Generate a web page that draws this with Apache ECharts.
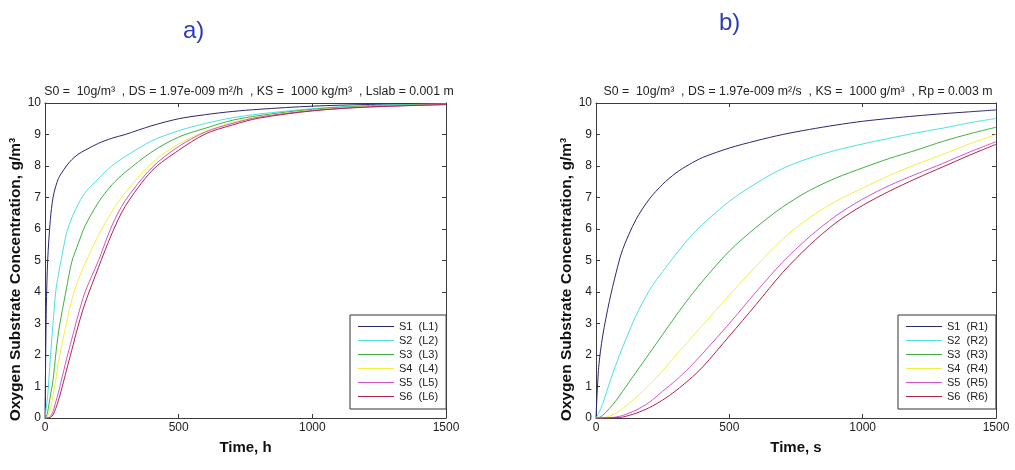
<!DOCTYPE html>
<html>
<head>
<meta charset="utf-8">
<script src="https://cdn.jsdelivr.net/npm/echarts@6/dist/echarts.min.js"></script>
<style>
  html, body { margin: 0; background: #fff; }
  #chart { width: 1015px; height: 470px; }
</style>
</head>
<body>
<div id="chart"></div>
<script>
// a) slab, time in h
const slabTime = [0, 5, 10, 20, 30, 40, 50, 60, 80, 100, 125, 150, 200, 250, 300, 400, 500, 600, 700, 800, 1000, 1200, 1500];
const slabS1 = [0, 3.5, 5.0, 6.3, 7.0, 7.35, 7.6, 7.75, 8.0, 8.2, 8.38, 8.5, 8.72, 8.88, 9.0, 9.28, 9.5, 9.63, 9.73, 9.8, 9.9, 9.95, 9.98];
const slabS2 = [0, 0.35, 0.7, 1.9, 3.0, 4.0, 4.55, 5.0, 5.85, 6.35, 6.8, 7.15, 7.6, 8.0, 8.3, 8.8, 9.12, 9.35, 9.53, 9.65, 9.82, 9.92, 9.97];
const slabS3 = [0, 0.05, 0.2, 0.7, 1.2, 2.0, 2.7, 3.2, 4.1, 4.95, 5.55, 6.1, 6.85, 7.4, 7.8, 8.45, 8.92, 9.2, 9.45, 9.6, 9.8, 9.9, 9.96];
const slabS4 = [0, 0, 0.05, 0.3, 0.7, 1.2, 1.75, 2.2, 3.0, 3.75, 4.4, 4.9, 5.8, 6.55, 7.15, 8.1, 8.7, 9.1, 9.38, 9.56, 9.77, 9.88, 9.95];
const slabS5 = [0, 0, 0, 0.05, 0.2, 0.5, 0.8, 1.15, 1.85, 2.5, 3.3, 4.0, 5.0, 6.1, 6.9, 7.95, 8.62, 9.08, 9.35, 9.55, 9.76, 9.87, 9.95];
const slabS6 = [0, 0, 0, 0.02, 0.1, 0.3, 0.55, 0.85, 1.5, 2.15, 2.95, 3.65, 4.78, 5.85, 6.72, 7.85, 8.5, 9.02, 9.3, 9.52, 9.75, 9.87, 9.95];

// b) sphere, time in s
const sphereTime = [0, 10, 25, 50, 75, 100, 150, 200, 250, 300, 350, 400, 500, 600, 700, 800, 900, 1000, 1100, 1200, 1300, 1400, 1500];
const sphereS1 = [0, 1.6, 2.6, 3.7, 4.6, 5.35, 6.3, 6.95, 7.42, 7.78, 8.05, 8.27, 8.57, 8.8, 9.0, 9.16, 9.3, 9.42, 9.51, 9.59, 9.66, 9.72, 9.78];
const sphereS2 = [0, 0.15, 0.45, 1.1, 1.7, 2.25, 3.25, 4.05, 4.65, 5.2, 5.72, 6.15, 6.88, 7.45, 7.92, 8.25, 8.5, 8.7, 8.88, 9.05, 9.2, 9.37, 9.51];
const sphereS3 = [0, 0.01, 0.08, 0.3, 0.55, 0.85, 1.45, 2.05, 2.65, 3.25, 3.82, 4.35, 5.3, 6.05, 6.7, 7.22, 7.62, 7.94, 8.24, 8.5, 8.78, 9.02, 9.23];
const sphereS4 = [0, 0, 0.01, 0.05, 0.15, 0.3, 0.65, 1.05, 1.5, 2.0, 2.47, 2.95, 3.9, 4.82, 5.68, 6.36, 6.88, 7.3, 7.7, 8.05, 8.37, 8.7, 9.0];
const sphereS5 = [0, 0, 0, 0.01, 0.03, 0.08, 0.25, 0.5, 0.85, 1.2, 1.6, 2.05, 3.0, 4.0, 4.95, 5.75, 6.42, 6.95, 7.38, 7.74, 8.08, 8.44, 8.77];
const sphereS6 = [0, 0, 0, 0, 0.01, 0.03, 0.15, 0.33, 0.57, 0.87, 1.22, 1.62, 2.6, 3.6, 4.62, 5.48, 6.2, 6.75, 7.2, 7.6, 7.97, 8.34, 8.69];

const slabNames = ['S1  (L1)', 'S2  (L2)', 'S3  (L3)', 'S4  (L4)', 'S5  (L5)', 'S6  (L6)'];
const sphereNames = ['S1  (R1)', 'S2  (R2)', 'S3  (R3)', 'S4  (R4)', 'S5  (R5)', 'S6  (R6)'];
const xTicks = [0, 500, 1000, 1500];
const yTicks = [0, 1, 2, 3, 4, 5, 6, 7, 8, 9, 10];

const colors = ['#2a2870', '#4fe0e0', '#40b040', '#f2f040', '#d055d0', '#b02448'];
const font = 'Liberation Sans, Arial, sans-serif';
const axisColor = '#3c3c3c';

const chart = echarts.init(document.getElementById('chart'));

const grids = [
  { left: 45, top: 103, width: 401, height: 315 },
  { left: 596, top: 103, width: 400, height: 315 },
];

const xAxes = [];
const yAxes = [];
['Time, h', 'Time, s'].forEach((name, g) => {
  const base = {
    gridIndex: g,
    type: 'value',
    min: xTicks[0],
    max: xTicks[xTicks.length - 1],
    interval: xTicks[1] - xTicks[0],
    axisLine: { onZero: false, lineStyle: { color: axisColor } },
    axisTick: { inside: true, length: 4, lineStyle: { color: axisColor } },
    splitLine: { show: false },
  };
  xAxes.push({
    ...base,
    position: 'bottom',
    name: name,
    nameLocation: 'middle',
    nameGap: 22,
    nameTextStyle: { fontFamily: font, fontSize: 15, fontWeight: 'bold', color: '#111' },
    axisLabel: { fontFamily: font, fontSize: 12, color: '#222', margin: 4, formatter: (v) => String(v) },
  });
  xAxes.push({ ...base, position: 'top', axisLabel: { show: false } });

  const ybase = {
    gridIndex: g,
    type: 'value',
    min: yTicks[0],
    max: yTicks[yTicks.length - 1],
    interval: 1,
    axisLine: { show: true, onZero: false, lineStyle: { color: axisColor } },
    axisTick: { show: true, inside: true, length: 4, lineStyle: { color: axisColor } },
    splitLine: { show: false },
  };
  yAxes.push({
    ...ybase,
    position: 'left',
    name: 'Oxygen Substrate Concentration, g/m³',
    nameLocation: 'middle',
    nameGap: 20,
    nameTextStyle: { fontFamily: font, fontSize: 15.5, fontWeight: 'bold', color: '#111', padding: [0, 38, 0, 0] },
    axisLabel: { fontFamily: font, fontSize: 12, color: '#222', margin: 4 },
  });
  yAxes.push({ ...ybase, position: 'right', axisLabel: { show: false } });
});

function makeSeries(time, values, names, g) {
  return values.map((vals, i) => ({
    name: names[i],
    type: 'line',
    xAxisIndex: 2 * g,
    yAxisIndex: 2 * g,
    data: time.map((t, k) => [t, vals[k]]),
    showSymbol: false,
    symbol: 'none',
    smooth: 0.3,
    lineStyle: { color: colors[i], width: 1 },
    itemStyle: { color: colors[i] },
    emphasis: { disabled: true },
  }));
}

const series = [
  ...makeSeries(slabTime, [slabS1, slabS2, slabS3, slabS4, slabS5, slabS6], slabNames, 0),
  ...makeSeries(sphereTime, [sphereS1, sphereS2, sphereS3, sphereS4, sphereS5, sphereS6], sphereNames, 1),
];

const legendBase = {
  orient: 'vertical',
  top: 315,
  icon: 'path://M0,0 L36,0 L36,1 L0,1 Z',
  itemWidth: 36,
  itemHeight: 11,
  itemGap: 3,
  padding: [6, 8, 7, 8],
  borderColor: '#333',
  borderWidth: 1,
  backgroundColor: '#fff',
  itemStyle: { borderWidth: 0 },
  textStyle: { fontFamily: font, fontSize: 11, color: '#222' },
  selectedMode: false,
};

chart.setOption({
  backgroundColor: '#fff',
  animation: false,
  title: [
    { text: 'a)', left: 178, top: 14, textStyle: { fontFamily: font, fontSize: 24, fontWeight: 'normal', color: '#2d3db5' } },
    { text: 'b)', left: 714, top: 6, textStyle: { fontFamily: font, fontSize: 24, fontWeight: 'normal', color: '#2d3db5' } },
    {
      text: 'S0 =  10g/m³  , DS = 1.97e-009 m²/h  , KS =  1000 kg/m³  , Lslab = 0.001 m',
      left: 244, textAlign: 'center', top: 81,
      textStyle: { fontFamily: font, fontSize: 12.3, fontWeight: 'normal', color: '#222' },
    },
    {
      text: 'S0 =  10g/m³  , DS = 1.97e-009 m²/s  , KS =  1000 g/m³  , Rp = 0.003 m',
      left: 793, textAlign: 'center', top: 81,
      textStyle: { fontFamily: font, fontSize: 12.3, fontWeight: 'normal', color: '#222' },
    },
  ],
  legend: [
    { ...legendBase, left: 350, data: slabNames },
    { ...legendBase, left: 898, data: sphereNames },
  ],
  grid: grids,
  xAxis: xAxes,
  yAxis: yAxes,
  series: series,
});
</script>
</body>
</html>
